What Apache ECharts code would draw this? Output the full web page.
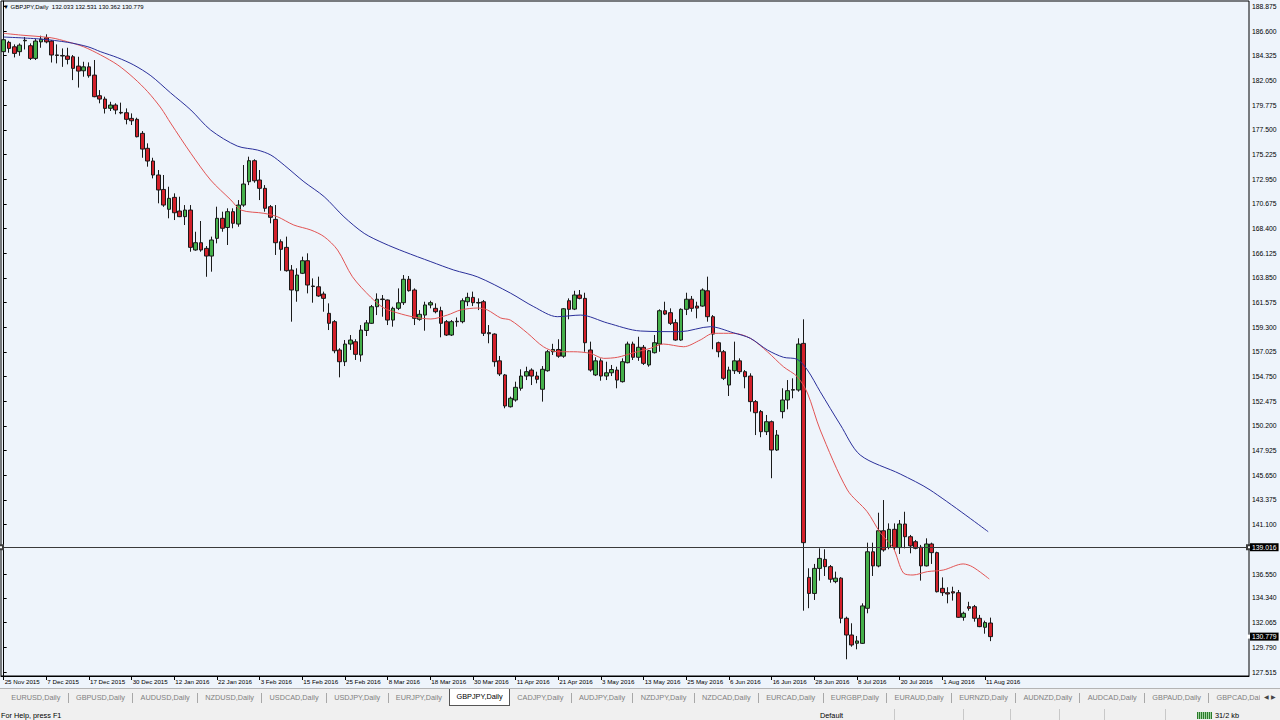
<!DOCTYPE html>
<html><head><meta charset="utf-8">
<script src="https://cdn.jsdelivr.net/npm/echarts@6/dist/echarts.min.js"></script>
<style>
html,body{margin:0;padding:0;width:1280px;height:720px;overflow:hidden;background:#f0f0f0;font-family:"Liberation Sans",Arial,sans-serif;}
#chart{position:absolute;left:0;top:0;width:1280px;height:689px;}
#tabs{position:absolute;left:0;top:688px;width:1280px;height:18px;background:#f0f0f0;border-top:1px solid #b4b4b4;box-sizing:border-box;overflow:hidden;}
#tabs .row{position:absolute;left:4px;top:0;display:flex;align-items:flex-start;white-space:nowrap;}
#tabs .tab{font-size:7.3px;color:#808080;padding:0 7.3px;line-height:17px;height:17px;}
#tabs .tab.active{background:#fff;color:#000;border:1px solid #555;border-top:none;line-height:16px;height:16px;padding:0 6.3px;}
#tabs .sep{width:1px;height:10px;background:#a8a8a8;margin-top:4px;}
#tabs .arrows{position:absolute;right:0;top:0;width:20px;height:17px;background:#f0f0f0;font-size:6px;color:#444;line-height:17px;text-align:center;}
#status{position:absolute;left:0;top:706px;width:1280px;height:14px;background:#f0f0f0;font-size:7.3px;color:#000;}
#status span{position:absolute;top:3px;line-height:14px;white-space:nowrap;}
#status .vl{position:absolute;top:3px;width:1px;height:11px;background:#c8c8c8;}
#status .icon{position:absolute;left:1197px;top:6px;width:15px;height:7px;background:repeating-linear-gradient(90deg,#2a7a2a 0 1px,#9fd29f 1px 2px);}
</style>
</head><body>
<div id="chart"></div>
<div id="tabs"><div class="row" id="tabrow"></div><div class="arrows">&#9664; &#9654;</div></div>
<div id="status">
  <span style="left:1px">For Help, press F1</span>
  <span style="left:820px">Default</span>
  <div class="vl" style="left:894px"></div>
  <div class="vl" style="left:963px"></div>
  <div class="vl" style="left:1010px"></div>
  <div class="vl" style="left:1059px"></div>
  <div class="vl" style="left:1104px"></div>
  <div class="vl" style="left:1165px"></div>
  <div class="icon"></div>
  <span style="left:1215px">31/2 kb</span>
</div>
<script>
// ---------- DATA ----------
const symbolName = 'GBPJPY,Daily';
const xLabels = ['25 Nov 2015','7 Dec 2015','17 Dec 2015','30 Dec 2015','12 Jan 2016','22 Jan 2016','3 Feb 2016','15 Feb 2016','25 Feb 2016','8 Mar 2016','18 Mar 2016','30 Mar 2016','11 Apr 2016','21 Apr 2016','3 May 2016','13 May 2016','25 May 2016','6 Jun 2016','16 Jun 2016','28 Jun 2016','8 Jul 2016','20 Jul 2016','1 Aug 2016','11 Aug 2016'];
const barsPerLabel = 8;
const yTicks = [127.515,129.79,132.065,134.34,136.55,141.1,143.375,145.65,147.925,150.2,152.475,154.75,157.025,159.3,161.575,163.85,166.125,168.4,170.675,172.95,175.225,177.5,179.775,182.05,184.325,186.6,188.875];
const hLineLevel = 139.016;
// daily candles: [open, high, low, close]
const ohlc = [
[184.7,186.0,184.5,185.8],[185.56,185.7,184.6,185.0],[185.15,185.37,184.17,184.54],[184.7,185.46,184.32,185.3],
[185.7,186.05,184.9,185.75],[185.25,185.46,183.93,184.08],[184.08,185.86,183.93,185.68],[185.6,186.17,185.06,185.85],
[185.98,186.3,185.47,185.6],[185.68,185.77,183.7,184.39],[184.4,185.37,183.62,184.35],[184.35,185.0,183.3,184.3],
[184.3,185.06,183.53,183.99],[184.23,184.39,182.08,183.16],[183.37,184.23,181.39,182.91],[182.94,183.77,182.39,183.3],
[183.3,183.71,182.3,182.48],[182.54,183.93,180.5,180.55],[180.64,181.16,179.94,180.33],[180.33,180.55,179.0,179.47],
[179.48,180.08,179.23,179.78],[179.78,179.94,178.93,179.32],[179.1,180.0,178.93,179.05],[179.07,179.47,178.0,178.46],
[178.55,179.01,177.94,178.33],[178.46,178.61,176.8,176.86],[177.17,177.38,174.92,175.72],[175.79,176.25,174.1,174.62],
[174.62,174.92,173.02,173.33],[173.33,173.79,170.72,171.95],[172.0,173.33,170.4,170.56],[170.17,172.25,169.34,171.18],
[171.27,171.64,169.18,169.85],[170.01,171.33,169.45,169.49],[169.49,170.56,168.72,170.1],[170.1,170.56,166.26,166.66],
[166.42,168.1,166.35,167.09],[167.09,169.09,166.26,166.42],[166.57,166.78,163.95,165.86],[165.86,167.65,164.42,167.34],
[167.49,170.41,167.03,169.34],[169.34,169.95,168.1,168.42],[168.49,170.26,166.88,169.95],[169.95,170.26,168.42,168.88],
[168.81,171.02,168.56,170.56],[170.56,174.25,170.4,172.5],[172.71,175.02,172.4,174.65],[174.65,174.78,172.62,172.8],
[172.87,173.79,171.02,172.1],[172.1,172.4,169.95,170.26],[170.41,170.56,168.88,169.43],[169.24,170.56,165.96,167.09],
[167.18,167.4,164.51,166.48],[166.66,167.65,164.42,164.51],[164.57,165.03,159.81,162.73],[162.66,164.73,161.65,164.11],
[164.27,165.8,164.2,165.43],[165.43,166.11,162.42,163.19],[163.1,163.8,161.56,163.05],[163.03,163.96,162.1,162.18],
[162.36,162.58,160.73,161.96],[160.58,161.5,159.04,159.66],[159.81,159.96,156.9,157.13],[157.2,157.36,154.68,156.12],
[156.12,158.12,155.72,157.75],[157.75,158.58,157.2,158.12],[157.96,158.19,156.28,156.8],[156.74,159.5,156.12,159.04],
[159.0,159.96,158.49,159.7],[159.66,161.35,159.6,161.19],[161.19,162.42,160.42,161.88],[161.9,162.27,160.27,161.85],
[161.81,161.85,159.5,159.96],[159.96,161.19,159.35,161.04],[161.04,162.88,160.88,161.55],[161.56,164.11,161.35,163.72],
[163.72,164.02,162.58,162.67],[162.73,162.88,159.5,160.12],[160.03,160.88,159.9,160.49],[160.42,161.65,158.98,161.35],
[161.35,161.74,161.04,161.56],[161.04,161.5,160.58,160.73],[160.82,161.19,158.37,159.66],[159.81,159.96,158.49,158.58],
[158.58,159.96,158.49,159.81],[159.8,160.2,159.35,159.85],[159.81,161.96,159.66,161.74],[161.65,162.48,161.25,162.05],
[162.05,162.58,161.25,161.56],[161.58,161.96,160.88,161.53],[161.65,161.81,158.49,158.74],[158.8,159.5,157.82,158.7],
[158.67,158.74,155.66,156.12],[156.2,156.65,154.8,154.99],[154.9,154.99,151.83,152.04],[151.97,152.9,151.9,152.75],
[152.59,154.28,152.44,153.76],[153.67,155.42,153.45,154.8],[154.8,155.66,154.43,155.2],[155.35,155.51,153.97,154.8],
[154.8,155.2,154.13,154.5],[153.58,155.72,152.44,155.42],[155.29,157.2,155.2,157.04],[157.04,157.77,156.74,157.25],
[157.25,158.19,156.48,156.63],[156.63,161.06,156.48,161.0],[161.74,161.96,160.03,160.95],[160.97,162.66,160.88,162.27],
[162.27,162.73,161.87,161.96],[161.96,162.48,157.04,157.87],[157.2,157.97,155.2,155.35],[154.9,156.53,154.8,156.2],
[156.2,156.43,154.37,154.8],[154.8,156.12,154.43,155.1],[155.1,155.82,154.8,155.4],[155.35,155.66,153.67,154.43],
[154.28,156.43,154.2,156.12],[156.03,157.97,155.97,157.75],[157.75,157.97,156.28,156.53],[156.53,158.42,156.2,157.45],
[157.45,157.66,155.82,155.97],[155.82,157.2,155.66,157.13],[156.95,158.58,156.88,157.87],[157.75,160.95,157.04,160.82],
[160.82,161.65,160.42,160.51],[160.64,161.04,159.5,159.66],[159.72,160.03,158.05,158.12],[158.12,161.04,158.05,160.95],
[160.95,162.48,160.42,161.88],[161.88,162.18,160.73,161.04],[161.25,161.65,160.12,161.06],[161.25,162.88,161.19,162.73],
[162.66,163.96,159.81,160.27],[160.27,160.42,157.27,158.67],[157.87,157.97,156.53,157.04],[157.04,157.2,154.43,154.59],
[153.97,155.66,152.96,155.35],[155.29,157.97,154.99,156.2],[156.2,156.43,154.99,155.2],[155.2,155.35,153.67,154.74],
[154.8,155.05,151.52,152.44],[152.44,152.59,149.36,151.42],[151.52,151.67,149.16,149.67],[149.67,151.21,149.36,150.59],
[150.59,150.7,145.38,147.98],[147.98,149.82,147.9,149.36],[151.52,153.67,150.9,152.59],[152.59,154.43,151.73,153.45],
[153.5,154.59,152.75,153.55],[153.51,158.28,153.36,157.75],[157.81,160.03,133.17,139.44],[136.24,137.08,133.4,134.76],
[134.76,137.48,134.16,137.07],[137.07,138.92,135.94,137.99],[137.9,138.83,136.37,137.23],[137.23,137.38,135.75,136.07],
[135.85,136.77,135.7,136.17],[136.17,136.26,132.01,132.47],[132.47,132.62,128.69,130.93],[130.93,132.01,129.85,130.01],
[130.17,130.84,129.61,130.38],[130.16,133.85,130.1,133.61],[133.39,139.44,132.93,138.6],[138.6,139.44,136.37,137.3],
[137.29,142.2,137.17,140.54],[140.54,143.37,138.61,138.77],[138.99,141.22,138.83,140.67],[140.67,141.22,138.77,138.99],
[138.99,141.53,138.4,141.16],[141.16,142.29,138.92,139.99],[139.99,140.15,138.46,139.14],[139.53,139.69,138.83,138.92],
[139.02,139.23,135.94,137.3],[137.3,139.84,137.25,139.32],[139.32,139.44,137.48,138.52],[138.52,138.61,134.85,134.92],
[135.23,136.24,134.53,134.83],[134.83,135.33,133.85,134.71],[134.92,135.38,134.1,134.8],[134.83,135.08,132.5,132.56],
[132.56,133.08,132.25,132.93],[133.54,133.99,133.17,133.39],[133.54,133.7,132.16,132.47],[132.47,132.78,131.65,131.7],
[131.64,132.25,131.05,132.07],[132.033,132.531,130.362,130.779]
];
// moving averages: [bar index, price]
const maFast = [[0,186.39],[3.2,186.23],[8.9,185.98],[12,185.61],[15,185.15],[18.2,184.39],[21.4,183.47],[24.4,182.27],[27,181.01],[29.5,179.5],[31.3,178.12],[35.1,175.33],[38.8,172.87],[42.6,171.03],[44.5,170.1],[48.8,169.8],[51.3,169.49],[54.4,168.72],[57.6,168.26],[60.1,167.64],[62.6,166.42],[65.4,163.95],[68.8,162.08],[71.3,161.07],[73.9,160.61],[76.9,160.24],[80.1,160.06],[83.2,160.42],[85.7,160.89],[88.9,161.07],[90.7,160.89],[93.2,160.15],[95,159.96],[98.2,158.76],[101.2,157.5],[103.8,157.04],[106.8,157.04],[110,156.89],[112.5,156.43],[115.1,156.53],[118.1,156.95],[121.3,157.36],[123.7,157.75],[127.5,157.5],[130.6,158.12],[133.1,158.74],[136.8,158.74],[140,158.28],[143.2,157.04],[146.2,155.66],[148.8,154.74],[150.7,153.24],[153.1,149.83],[158.2,144.3],[161.9,142.3],[164.4,140.33],[166.8,138.95],[168.7,136.65],[170.5,136.46],[173.2,136.77],[176.2,136.92],[179.9,137.48],[181.7,137.2],[184.8,136.09]];
const maSlow = [[0,186.05],[7,185.86],[12,185.56],[15.8,185.15],[18.2,184.69],[21.4,184.14],[24.4,183.47],[27.6,182.48],[31.3,180.9],[35.1,179.32],[38.8,177.48],[43.8,176.0],[47.6,175.63],[50.1,175.17],[52.6,174.24],[56.3,172.71],[60.1,171.33],[63.8,169.48],[67.6,167.95],[71.3,167.03],[75.1,166.26],[80.1,165.34],[84.4,164.57],[88.9,163.93],[95,162.45],[99.4,161.19],[103.8,160.27],[108.2,160.42],[113.2,159.69],[119.4,158.95],[126.9,158.89],[132.5,159.35],[136.8,158.79],[140,158.28],[143.2,157.2],[146.2,156.53],[148.8,156.34],[150.7,155.36],[153.1,153.36],[156.9,150.29],[160.6,147.52],[168.1,145.77],[173.7,144.3],[184.6,140.45]];
const tabNames = ['EURUSD,Daily','GBPUSD,Daily','AUDUSD,Daily','NZDUSD,Daily','USDCAD,Daily','USDJPY,Daily','EURJPY,Daily','GBPJPY,Daily','CADJPY,Daily','AUDJPY,Daily','NZDJPY,Daily','NZDCAD,Daily','EURCAD,Daily','EURGBP,Daily','EURAUD,Daily','EURNZD,Daily','AUDNZD,Daily','AUDCAD,Daily','GBPAUD,Daily','GBPCAD,Daily'];
const activeTab = 7;
const totalSlots = 234;

// ---------- TABS ----------
const row = document.getElementById('tabrow');
tabNames.forEach((t, i) => {
  if (i > 0 && i !== activeTab && i !== activeTab + 1) {
    const s = document.createElement('div'); s.className = 'sep'; row.appendChild(s);
  }
  const d = document.createElement('div');
  d.className = 'tab' + (i === activeTab ? ' active' : '');
  d.textContent = t;
  row.appendChild(d);
});

// ---------- CHART ----------
const cats = Array.from({length: totalSlots}, (_, i) => String(i));
const showIdx = (i) => i % barsPerLabel === 0 && i / barsPerLabel < xLabels.length;
const last = ohlc[ohlc.length - 1];
const fmt = (v) => v.toFixed(3);
const chart = echarts.init(document.getElementById('chart'), null, {renderer: 'svg'});
const priceLabel = (txt) => ({show: true, position: 'end', formatter: txt, backgroundColor: '#000', color: '#fff',
  padding: [1, 2, 0, 2], fontSize: 6.8, fontFamily: 'Liberation Sans', distance: 1});
chart.setOption({
  animation: false,
  backgroundColor: '#eef4fb',
  textStyle: {fontFamily: 'Liberation Sans'},
  grid: {left: 1, right: 31, top: 1, bottom: 13, show: true, borderColor: '#000', borderWidth: 1, backgroundColor: 'transparent'},
  graphic: [{type: 'text', left: 3, top: 4, z: 100,
    style: {text: '\u25BC ' + symbolName + '  ' + last.map(fmt).join(' '), font: '6px "Liberation Sans"', fill: '#000'}}],
  xAxis: [{
    type: 'category', data: cats, boundaryGap: true,
    axisLine: {show: true, lineStyle: {color: '#000', width: 1}},
    axisTick: {show: true, alignWithLabel: true, length: 4, interval: (i) => showIdx(i), lineStyle: {color: '#000'}},
    axisLabel: {show: true, interval: (i) => showIdx(i), formatter: (v, i) => xLabels[i / barsPerLabel] || '',
      align: 'left', margin: 2, fontSize: 6.2, color: '#000', padding: [0, 0, 0, 1]},
    splitLine: {show: false}
  }, {
    type: 'value', min: -0.5, max: totalSlots - 0.5, show: false
  }],
  yAxis: {
    type: 'value', position: 'right', min: 127.15, max: 189.37,
    axisLine: {show: true, lineStyle: {color: '#000'}},
    axisTick: {show: true, length: 3, customValues: yTicks, lineStyle: {color: '#000'}},
    axisLabel: {show: true, customValues: yTicks, formatter: fmt, fontSize: 6.8, color: '#000', margin: 3},
    splitLine: {show: false}
  },
  series: [{
    type: 'candlestick', xAxisIndex: 0,
    data: ohlc.map(([o, h, l, c]) => [o, c, l, h]),
    barWidth: 4,
    itemStyle: {color: '#45b04a', color0: '#d3202a', borderColor: '#1a1a1a', borderColor0: '#1a1a1a', borderWidth: 1},
    markLine: {
      silent: true, symbol: ['emptyRect', 'emptyRect'], symbolSize: 4,
      data: [
        {yAxis: hLineLevel, lineStyle: {color: '#3a3a3a', width: 1, type: 'solid'}, label: priceLabel(fmt(hLineLevel))},
        {yAxis: last[3], symbol: 'none', lineStyle: {color: 'rgba(0,0,0,0)', width: 0}, label: priceLabel(fmt(last[3]))}
      ]
    }
  }, {
    type: 'line', xAxisIndex: 1, data: maFast, showSymbol: false, smooth: 0.3,
    lineStyle: {color: '#e25454', width: 1}, z: 3
  }, {
    type: 'line', xAxisIndex: 1, data: maSlow, showSymbol: false, smooth: 0.3,
    lineStyle: {color: '#2a2f9a', width: 1}, z: 3
  }]
});
</script>
</body></html>
